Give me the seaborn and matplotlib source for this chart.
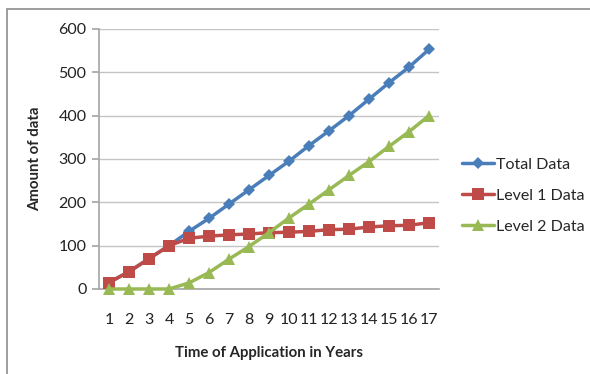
import matplotlib
matplotlib.use("Agg")
import matplotlib.pyplot as plt
import seaborn as sns
import pandas as pd
from matplotlib.patches import Rectangle

years = list(range(1, 18))
total_data = [15, 40, 70, 100, 133, 163, 196, 229, 262, 295, 331, 365, 400, 438, 476, 512, 553]
level1_data = [15, 40, 70, 100, 117, 122, 125, 127, 130, 131, 133, 137, 138, 143, 146, 147, 153]
level2_data = [0, 0, 0, 0, 14, 38, 69, 98, 130, 164, 196, 229, 262, 294, 329, 363, 400]
series_names = ["Total Data", "Level 1 Data", "Level 2 Data"]
y_ticks = [0, 100, 200, 300, 400, 500, 600]

df = pd.DataFrame({"Year": years, series_names[0]: total_data,
                   series_names[1]: level1_data, series_names[2]: level2_data})
long = df.melt(id_vars="Year", var_name="Series", value_name="Value")

sns.set_theme(style="white")
plt.rcParams['font.family'] = ['Lato', 'DejaVu Sans']

fig = plt.figure(figsize=(5.9, 3.74), dpi=100)
ax = fig.add_axes([99/590, 1-289/374, 340/590, 260/374])

palette = {"Total Data": "#4a7ebb", "Level 1 Data": "#be4b48", "Level 2 Data": "#98b954"}
markers = {"Total Data": "D", "Level 1 Data": "s", "Level 2 Data": "^"}
sizes_m = {"Total Data": 6.5, "Level 1 Data": 8, "Level 2 Data": 8.5}

for name in series_names:
    sub = long[long["Series"] == name]
    sns.lineplot(data=sub, x="Year", y="Value", ax=ax, color=palette[name],
                 marker=markers[name], markersize=sizes_m[name], linewidth=2.5,
                 markeredgewidth=0, label=name, clip_on=False, zorder=3)

ax.set_xlim(0.5, 17.5)
ax.set_ylim(0, 600)
ax.set_xticks(years)
ax.set_xticklabels([str(y) for y in years])
ax.set_yticks(y_ticks)
ax.yaxis.grid(True, color="#c4c4c4", linewidth=1)
ax.xaxis.grid(False)
for s in ["top", "right"]:
    ax.spines[s].set_visible(False)
ax.spines["left"].set_color("#a8a8a8")
ax.spines["bottom"].set_color("#a8a8a8")
ax.tick_params(axis="y", left=True, length=5, color="#a8a8a8", labelsize=11.5, pad=4, labelcolor="#222222")
ax.tick_params(axis="x", bottom=False, labelsize=11.5, pad=11, labelcolor="#222222")

ax.set_xlabel("Time of Application in Years", fontsize=10.8, fontweight="bold", labelpad=14)
ax.set_ylabel("Amount of data", fontsize=10.8, fontweight="bold", labelpad=12)

leg = ax.legend(loc="center left", bbox_to_anchor=(462/590, 1-195.5/374), bbox_transform=fig.transFigure,
                frameon=False, fontsize=11.5, handlelength=2.0, handletextpad=0.15, labelspacing=1.05,
                borderaxespad=0, borderpad=0)

fig.patches.append(Rectangle((7/590, -0.1), 1.2, 1 - 9/374 + 0.1, transform=fig.transFigure,
                             fill=False, edgecolor="#8c8c8c", linewidth=1.2))

fig.savefig("out.png", dpi=100)
